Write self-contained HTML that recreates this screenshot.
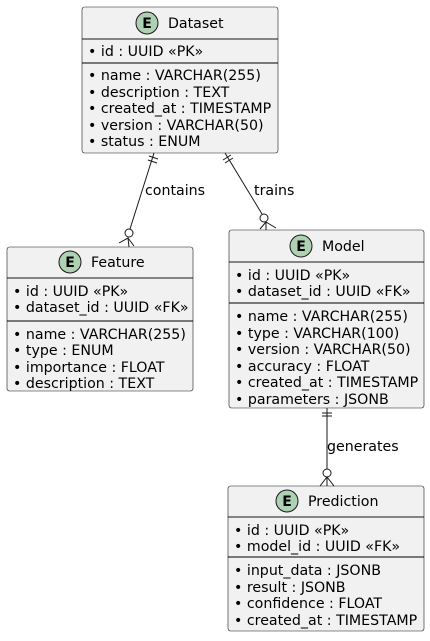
<!DOCTYPE html>
<html><head><meta charset="utf-8"><style>
html,body{margin:0;padding:0;background:#fff;}
svg text{font-family:"DejaVu Sans","Liberation Sans",sans-serif;font-size:14.2px;fill:#000;}
.b{fill:#f1f1f1;stroke:#181818;stroke-width:0.6;}
.l{stroke:#181818;stroke-width:1;fill:none;}
</style></head><body>
<svg width="430" height="636" xmlns="http://www.w3.org/2000/svg">
<defs>
<g id="E"><circle r="11" fill="#ADD1B2" stroke="#181818" stroke-width="1"/><text x="0" y="5" text-anchor="middle" style="font-weight:bold;font-size:14px">E</text></g>
</defs>
<!-- Dataset -->
<rect class="b" x="82" y="7" width="196" height="146" rx="2.5"/>
<use href="#E" x="147" y="23"/><text x="168" y="28">Dataset</text>
<line class="l" x1="82" y1="39" x2="278" y2="39"/>
<line x1="82" y1="63" x2="278" y2="63" stroke="#000" stroke-width="1"/>
<g>
<text x="88" y="56">• id : UUID «PK»</text>
<text x="88" y="80">• name : VARCHAR(255)</text>
<text x="88" y="97">• description : TEXT</text>
<text x="88" y="113">• created_at : TIMESTAMP</text>
<text x="88" y="130">• version : VARCHAR(50)</text>
<text x="88" y="146">• status : ENUM</text>
</g>
<!-- Feature -->
<rect class="b" x="7" y="247" width="186" height="144" rx="2.5"/>
<use href="#E" x="70" y="262"/><text x="91" y="267">Feature</text>
<line class="l" x1="7" y1="278" x2="193" y2="278"/>
<line x1="7" y1="321" x2="193" y2="321" stroke="#000" stroke-width="1"/>
<text x="13" y="296">• id : UUID «PK»</text>
<text x="13" y="312">• dataset_id : UUID «FK»</text>
<text x="13" y="339">• name : VARCHAR(255)</text>
<text x="13" y="355">• type : ENUM</text>
<text x="13" y="372">• importance : FLOAT</text>
<text x="13" y="388">• description : TEXT</text>
<!-- Model -->
<rect class="b" x="229" y="230" width="195" height="178" rx="2.5"/>
<use href="#E" x="301" y="246"/><text x="322" y="251">Model</text>
<line class="l" x1="229" y1="262" x2="424" y2="262"/>
<line x1="229" y1="303" x2="424" y2="303" stroke="#000" stroke-width="1"/>
<text x="235" y="280">• id : UUID «PK»</text>
<text x="235" y="296">• dataset_id : UUID «FK»</text>
<text x="235" y="321">• name : VARCHAR(255)</text>
<text x="235" y="338">• type : VARCHAR(100)</text>
<text x="235" y="354">• version : VARCHAR(50)</text>
<text x="235" y="371">• accuracy : FLOAT</text>
<text x="235" y="387">• created_at : TIMESTAMP</text>
<text x="235" y="404">• parameters : JSONB</text>
<!-- Prediction -->
<rect class="b" x="228" y="486" width="196" height="145" rx="2.5"/>
<use href="#E" x="287" y="501"/><text x="308" y="506">Prediction</text>
<line class="l" x1="228" y1="517" x2="424" y2="517"/>
<line x1="228" y1="557" x2="424" y2="557" stroke="#000" stroke-width="1"/>
<text x="234" y="535">• id : UUID «PK»</text>
<text x="234" y="551">• model_id : UUID «FK»</text>
<text x="234" y="575">• input_data : JSONB</text>
<text x="234" y="592">• result : JSONB</text>
<text x="234" y="608">• confidence : FLOAT</text>
<text x="234" y="625">• created_at : TIMESTAMP</text>
<!-- contains -->
<line class="l" x1="154" y1="153" x2="130" y2="229"/>
<line class="l" x1="149" y1="156" x2="158" y2="159"/>
<line class="l" x1="148" y1="160" x2="157" y2="163"/>
<circle cx="129" cy="233" r="4" fill="#fff" stroke="#181818"/>
<path class="l" d="M119 243 L128 238 L129 247 M128 238 L134 246"/>
<text x="145" y="195">contains</text>
<!-- trains -->
<line class="l" x1="225" y1="153" x2="262" y2="214"/>
<line class="l" x1="223" y1="160" x2="231" y2="155"/>
<line class="l" x1="225" y1="163" x2="233" y2="158"/>
<circle cx="264" cy="218" r="4" fill="#fff" stroke="#181818"/>
<path class="l" d="M266 222 L266 230 M266 222 L276 228 M266 222 L260 229"/>
<text x="254" y="195">trains</text>
<!-- generates -->
<line class="l" x1="327" y1="408" x2="327" y2="469"/>
<line class="l" x1="322" y1="413" x2="332" y2="413"/>
<line class="l" x1="322" y1="416" x2="332" y2="416"/>
<circle cx="327" cy="473" r="4" fill="#fff" stroke="#181818"/>
<path class="l" d="M320 486 L327 477 L334 486 M327 477 L327 486"/>
<text x="327" y="451">generates</text>
</svg>
</body></html>
